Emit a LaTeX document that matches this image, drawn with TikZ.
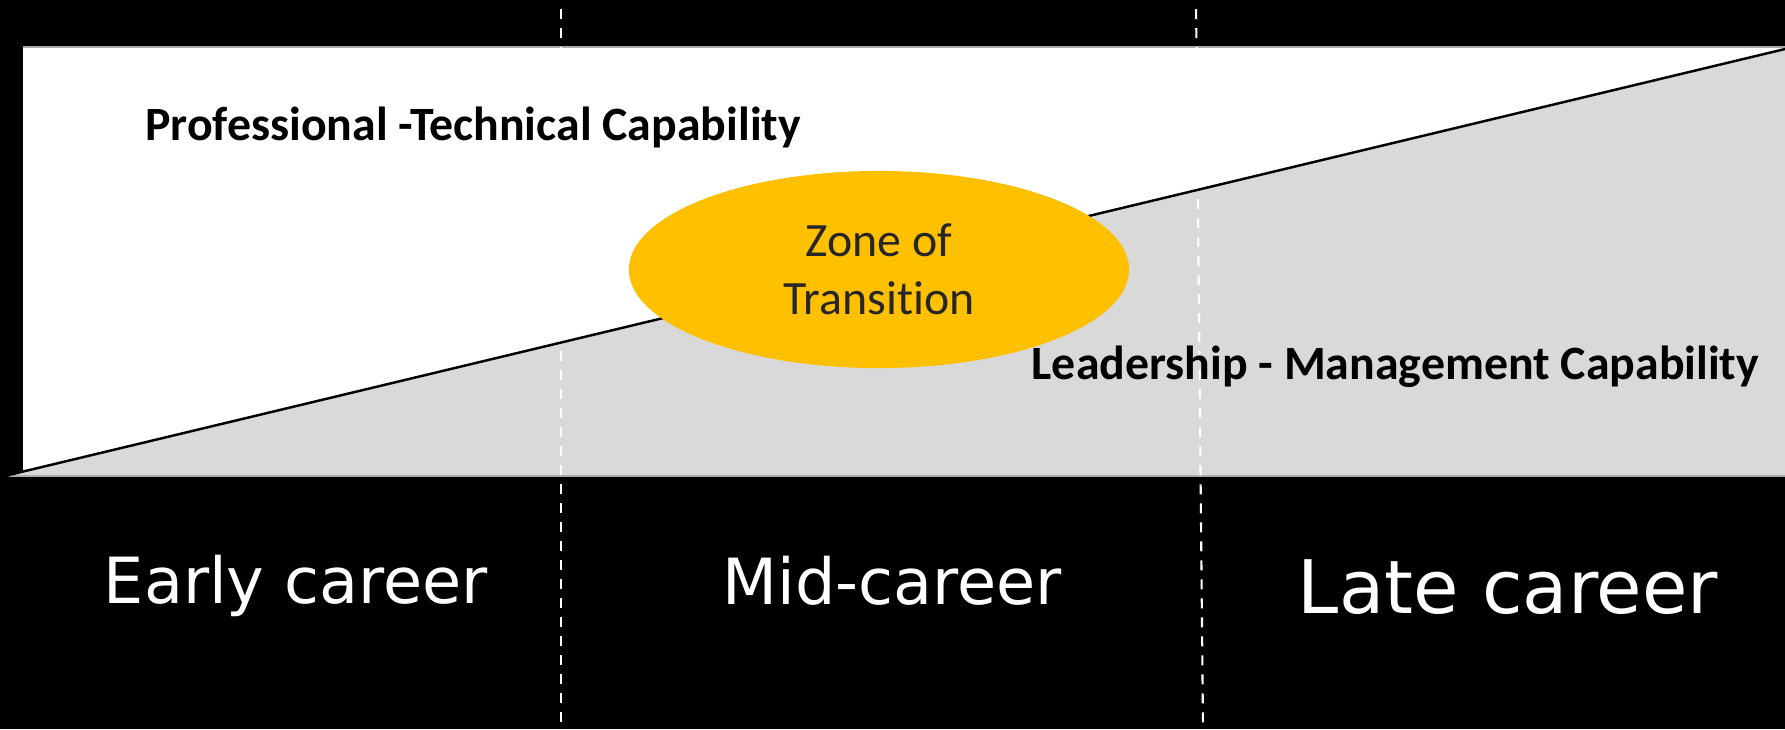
\documentclass[tikz,border=0pt]{standalone}
\usepackage{fontspec}
\setmainfont{Carlito}[Ligatures=NoCommon]
\newfontfamily\stagefont{DejaVu Sans}
\usepackage{tikz}
\definecolor{zonegold}{RGB}{255, 192, 0}
\definecolor{wedgegray}{RGB}{217, 217, 217}
\definecolor{edgegray}{RGB}{170, 170, 170}
\definecolor{zonetext}{RGB}{38, 38, 38}
\usetikzlibrary{shapes.geometric}

\begin{document}
\begin{tikzpicture}[
    x=0.01cm, y=-0.01cm,
    capability/.style={
        anchor=base west,
        inner sep=0pt,
        font=\fontsize{13.6pt}{16pt}\selectfont\bfseries
    },
    stage/.style={
        anchor=base,
        inner sep=0pt,
        text=white,
        font=\stagefont\fontsize{18.1pt}{21pt}\selectfont
    },
    divider/.style={white, line width=0.6pt, dash pattern=on 0.1cm off 0.09cm, dash phase=0.1cm},
    zone/.style={
        ellipse,
        fill=zonegold,
        minimum width=5cm,
        minimum height=1.97cm,
        inner sep=0pt,
        align=center,
        text=zonetext,
        font=\fontsize{13.6pt}{16.4pt}\selectfont
    }
]
    % Black page
    \fill[black] (0,0) rectangle (1785,729);
    \useasboundingbox (0,0) rectangle (1785,729);

    % Capability band
    \coordinate (low) at (8.6,475);
    \coordinate (high) at (1785,49);
    \fill[white] (23,47) rectangle (1785,476);
    \fill[wedgegray] (8.6,476) -- (high) -- (1785,476) -- cycle;
    \draw[edgegray, line width=0.4pt] (23,47) -- (1785,47);
    \draw[edgegray, line width=0.4pt] (8.6,476) -- (1785,476);

    % Career stage dividers
    \draw[divider] (561,0) -- (561,729);
    \draw[divider] (1196,0) -- (1203,729);

    % Rising line
    \draw[line width=0.7pt] (low) -- (high);

    % Zone of transition
    \node[zone] (transition) at (879,269.5) {Zone of\\Transition};

    % Capability labels
    \node[capability] (technical) at (144.6,140) {Professional -Technical Capability};
    \node[capability] (leadership) at (1031,379) {Leadership - Management Capability};

    % Career stages
    \node[stage] (early) at (296,603) {Early career};
    \node[stage] (mid) at (892,604) {Mid-career};
    \node[stage, font=\stagefont\fontsize{21pt}{24pt}\selectfont] (late) at (1508,613) {Late career};
\end{tikzpicture}
\end{document}
